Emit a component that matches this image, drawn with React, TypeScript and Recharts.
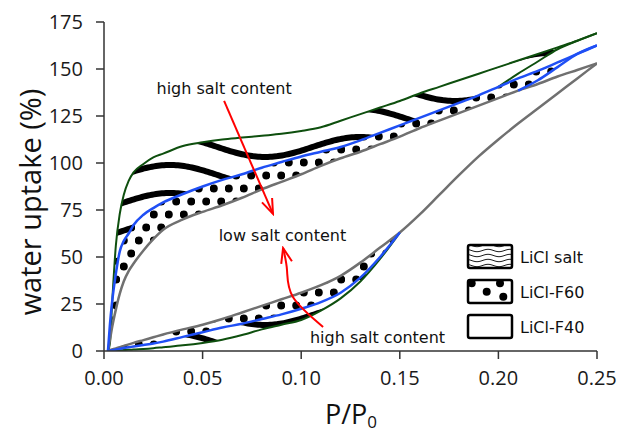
import React from 'react';
import { ComposedChart, Line, Area, XAxis, YAxis, ReferenceDot, Legend } from 'recharts';

// relative pressure grid shared by every isotherm branch
const pressure = [
  0.002, 0.003, 0.004, 0.006, 0.008, 0.01, 0.0125, 0.015, 0.02, 0.025, 0.03, 0.04, 0.05, 0.06, 0.07, 0.08, 0.09,
  0.1, 0.11, 0.12, 0.13, 0.14, 0.15, 0.16, 0.17, 0.18, 0.19, 0.2, 0.21, 0.22, 0.23, 0.24, 0.25,
];

// LiCl salt (green)
const saltDes = [
  0, 4, 23, 56, 73, 83, 90.5, 95, 99.5, 103, 105, 109, 111, 112.5, 113.5, 114.5, 115.5, 117, 119, 122.5, 126,
  129.5, 133, 137, 140.5, 144, 147.5, 151, 154.5, 158, 161.5, 165, 169,
];
const saltAds = [
  0, 0.1, 0.2, 0.3, 0.4, 0.5, 0.6, 0.8, 1.1, 1.5, 2, 3, 4.3, 6, 8.5, 11.5, 14, 16.5, 21.5, 28, 37, 49, 63,
  null, null, null, null, null, null, null, null, null, null,
];
const saltSpur = [
  null, null, null, null, null, null, null, null, null, null, null, null, null, null, null, null, null, null, null,
  null, null, null, null, null, null, null, null, 140.5, 147.5, 154, 160.5, 165, 169,
];

// LiCl-F60 (blue)
const f60Des = [
  0, 14, 25, 41, 53, 58.5, 62.5, 67, 72.5, 76, 79, 83.5, 87.5, 91, 94, 97.5, 100.5, 103.5, 106, 108.5, 112, 116,
  120, 124, 128, 132, 136, 140.5, 145, 149, 153.5, 158, 162.5,
];
const f60Ads = [
  0, 0.2, 0.4, 0.8, 1.2, 1.6, 2, 2.4, 3.2, 4, 5, 7.5, 10, 12.5, 14.5, 17, 19.5, 22.5, 26, 31, 39, 50, 63,
  null, null, null, null, null, null, null, null, null, null,
];
const f60Spur = [
  null, null, null, null, null, null, null, null, null, null, null, null, null, null, null, null, null, null, null,
  null, null, null, null, null, null, null, null, null, 138.5, 144, 151, 158, 162.5,
];

// LiCl-F40 (grey)
const f40Des = [
  0, 6, 12, 22, 30.5, 37, 42.5, 46.5, 53.5, 59.5, 64.5, 70, 74, 77.5, 81.5, 86, 90, 94, 98.5, 102.5, 106, 110,
  114, 118.5, 122.5, 126.5, 130.5, 134.5, 138.5, 142, 146, 149.5, 153,
];
const f40Ads = [
  0, 0.4, 0.8, 1.4, 2, 2.7, 3.5, 4.3, 5.8, 7.3, 8.8, 11.5, 14, 17, 20.5, 24, 27.5, 31, 35, 40, 47, 55, 63, 72.5,
  83, 93.5, 103.5, 112.5, 121, 129, 137, 145, 153,
];

// red annotation arrows
const arrowDownX = [0.0609, 0.0857];
const arrowDownY = [133, 72.9];
const arrowUpX = [0.1111, 0.0958, 0.0928, 0.0908];
const arrowUpY = [12.8, 28.7, 43.1, 54.8];

const notes = ['high salt content', 'low salt content', 'high salt content'];
const noteX = [0.0609, 0.0905, 0.1387];
const noteY = [139.7, 61.7, 7.4];

const xTicks = [0, 0.05, 0.1, 0.15, 0.2, 0.25];
const yTicks = [0, 25, 50, 75, 100, 125, 150, 175];
const legendNames = ['LiCl salt', 'LiCl-F60', 'LiCl-F40'];

const rows = pressure.map((x, i) => ({
  x,
  saltDes: saltDes[i],
  saltAds: saltAds[i],
  saltSpur: saltSpur[i],
  f60Des: f60Des[i],
  f60Ads: f60Ads[i],
  f60Spur: f60Spur[i],
  f40Des: f40Des[i],
  f40Ads: f40Ads[i],
  saltBandUp: [saltSpur[i] ?? f60Des[i], saltDes[i]],
  f60BandUp: [f60Spur[i] ?? f40Des[i], f60Des[i]],
  saltBandLow: saltAds[i] == null ? null : [saltAds[i], f60Ads[i]],
  f60BandLow: f60Ads[i] == null ? null : [f60Ads[i], f40Ads[i]],
}));
const lowRows = rows.filter((r) => r.saltAds != null);

const arrowDown = arrowDownX.map((x, i) => ({ x, y: arrowDownY[i] }));
const arrowUp = arrowUpX.map((x, i) => ({ x, y: arrowUpY[i] }));

const GREEN = '#0e4f0e';
const BLUE = '#1f4ff5';
const GREY = '#707070';
const RED = '#ff0000';
const AXIS = '#333';

// sinusoidal hatch line for one pattern tile
const wavePath = (w: number, h: number, amp: number, step = 2) => {
  const pts: string[] = [];
  for (let x = -step * 2; x <= w + step * 2; x += step) {
    const y = h / 2 - amp * Math.cos((2 * Math.PI * x) / w);
    pts.push(`${pts.length ? 'L' : 'M'}${x.toFixed(1)},${y.toFixed(2)}`);
  }
  return pts.join(' ');
};

const renderLegend = () => (
  <svg width={150} height={100} style={{ display: 'block' }}>
    <defs>
      <pattern id="legWavy" patternUnits="userSpaceOnUse" width={22} height={5} x={0} y={1}>
        <path d={wavePath(22, 5, 1.2, 1)} stroke="#000" strokeWidth={0.9} fill="none" />
      </pattern>
      <clipPath id="legBox">
        <rect x={2} y={3} width={44} height={23} />
      </clipPath>
    </defs>
    {legendNames.map((name, i) => (
      <g key={name} transform={`translate(0, ${i * 35})`}>
        <rect x={2} y={3} width={44} height={23} fill={i === 0 ? 'url(#legWavy)' : '#fff'} />
        {i === 1 && (
          <g clipPath="url(#legBox)" fill="#000">
            <circle cx={5.7} cy={6.3} r={4} />
            <circle cx={20.7} cy={14.7} r={4} />
            <circle cx={34} cy={6.3} r={4} />
            <circle cx={37.3} cy={19.7} r={4} />
          </g>
        )}
        <rect x={2} y={3} width={44} height={23} rx={2} fill="none" stroke="#000" strokeWidth={2.5} />
        <text x={54} y={21} fontFamily="DejaVu Sans" fontSize={16} fill="#111">
          {name}
        </text>
      </g>
    ))}
  </svg>
);

const YLabel = () => (
  <text
    x={29}
    y={202}
    transform="rotate(-90 29 202)"
    textAnchor="middle"
    dominantBaseline="central"
    fontFamily="Open Sans"
    fontSize={29}
    fill="#111"
  >
    water uptake (%)
  </text>
);

const XLabel = () => (
  <text x={351} y={424} textAnchor="middle" fontFamily="Open Sans" fontSize={27} fill="#111">
    P/P
    <tspan fontSize={17} dy={4}>
      0
    </tspan>
  </text>
);

const tickStyle = { fill: '#1a1a1a', fontSize: 20, fontFamily: 'Open Sans' };

export default function App() {
  return (
    <div style={{ position: 'absolute', left: 0, top: 0, background: '#fff' }}>
      <ComposedChart width={619} height={435} data={rows} margin={{ top: 22, right: 22, bottom: 0, left: 0 }}>
        <defs>
          <pattern id="wavy" patternUnits="userSpaceOnUse" x={170} y={161} width={190} height={28}>
            <path d={wavePath(190, 28, 10)} stroke="#000" strokeWidth={6} fill="none" />
          </pattern>
          <pattern id="dots" patternUnits="userSpaceOnUse" x={0} y={0} width={15} height={26}>
            <circle cx={3.75} cy={6.5} r={4} fill="#000" />
            <circle cx={11.25} cy={19.5} r={4} fill="#000" />
          </pattern>
          <marker
            id="redHead"
            viewBox="0 0 18 14"
            refX={16}
            refY={7}
            markerWidth={18}
            markerHeight={14}
            markerUnits="userSpaceOnUse"
            orient="auto"
          >
            <path d="M1,1.5 L16,7 L1,12.5" fill="none" stroke={RED} strokeWidth={2} />
          </marker>
        </defs>

        <XAxis
          dataKey="x"
          type="number"
          domain={[0, 0.25]}
          ticks={xTicks}
          tickFormatter={(v: number) => v.toFixed(2)}
          height={84}
          tickSize={8}
          tickMargin={12}
          stroke={AXIS}
          strokeWidth={1.5}
          tick={tickStyle}
          allowDataOverflow
          label={{ content: XLabel }}
        />
        <XAxis xAxisId="top" orientation="top" type="number" domain={[0, 0.25]} height={0} tick={false} tickLine={false} stroke={AXIS} strokeWidth={1.5} />
        <YAxis
          type="number"
          domain={[0, 175]}
          ticks={yTicks}
          width={104}
          tickSize={8}
          tickMargin={13}
          stroke={AXIS}
          strokeWidth={1.5}
          tick={tickStyle}
          allowDataOverflow
          label={{ content: YLabel }}
        />
        <YAxis yAxisId="right" orientation="right" type="number" domain={[0, 175]} width={0} tick={false} tickLine={false} stroke={AXIS} strokeWidth={1.5} />

        <Area type="monotone" dataKey="saltBandUp" stroke="none" fill="url(#wavy)" fillOpacity={1} isAnimationActive={false} />
        <Area type="monotone" dataKey="f60BandUp" stroke="none" fill="url(#dots)" fillOpacity={1} isAnimationActive={false} />
        <Area type="monotone" data={lowRows} dataKey="saltBandLow" stroke="none" fill="url(#wavy)" fillOpacity={1} isAnimationActive={false} />
        <Area type="monotone" data={lowRows} dataKey="f60BandLow" stroke="none" fill="url(#dots)" fillOpacity={1} isAnimationActive={false} />

        <Line type="monotone" dataKey="saltDes" stroke={GREEN} strokeWidth={2} dot={false} activeDot={false} isAnimationActive={false} />
        <Line type="monotone" dataKey="saltAds" stroke={GREEN} strokeWidth={2} dot={false} activeDot={false} isAnimationActive={false} />
        <Line type="monotone" dataKey="saltSpur" stroke={GREEN} strokeWidth={2} dot={false} activeDot={false} isAnimationActive={false} />
        <Line type="monotone" dataKey="f40Des" stroke={GREY} strokeWidth={2.5} dot={false} activeDot={false} isAnimationActive={false} />
        <Line type="monotone" dataKey="f40Ads" stroke={GREY} strokeWidth={2.5} dot={false} activeDot={false} isAnimationActive={false} />
        <Line type="monotone" dataKey="f60Des" stroke={BLUE} strokeWidth={2.5} dot={false} activeDot={false} isAnimationActive={false} />
        <Line type="monotone" dataKey="f60Ads" stroke={BLUE} strokeWidth={2.5} dot={false} activeDot={false} isAnimationActive={false} />
        <Line type="monotone" dataKey="f60Spur" stroke={BLUE} strokeWidth={2.5} dot={false} activeDot={false} isAnimationActive={false} />

        <Line data={arrowDown} type="linear" dataKey="y" stroke={RED} strokeWidth={2} dot={false} activeDot={false} markerEnd="url(#redHead)" isAnimationActive={false} />
        <Line data={arrowUp} type="natural" dataKey="y" stroke={RED} strokeWidth={2} dot={false} activeDot={false} markerEnd="url(#redHead)" isAnimationActive={false} />

        {notes.map((text, i) => (
          <ReferenceDot
            key={i}
            x={noteX[i]}
            y={noteY[i]}
            r={0}
            fill="none"
            stroke="none"
            label={{ value: text, position: 'center', fontFamily: 'DejaVu Sans', fontSize: 16, fill: '#111' }}
          />
        ))}

        <Legend
          layout="vertical"
          align="center"
          verticalAlign="middle"
          content={renderLegend}
          wrapperStyle={{ left: 466, top: 242, width: 150, height: 100 }}
        />
      </ComposedChart>
    </div>
  );
}
